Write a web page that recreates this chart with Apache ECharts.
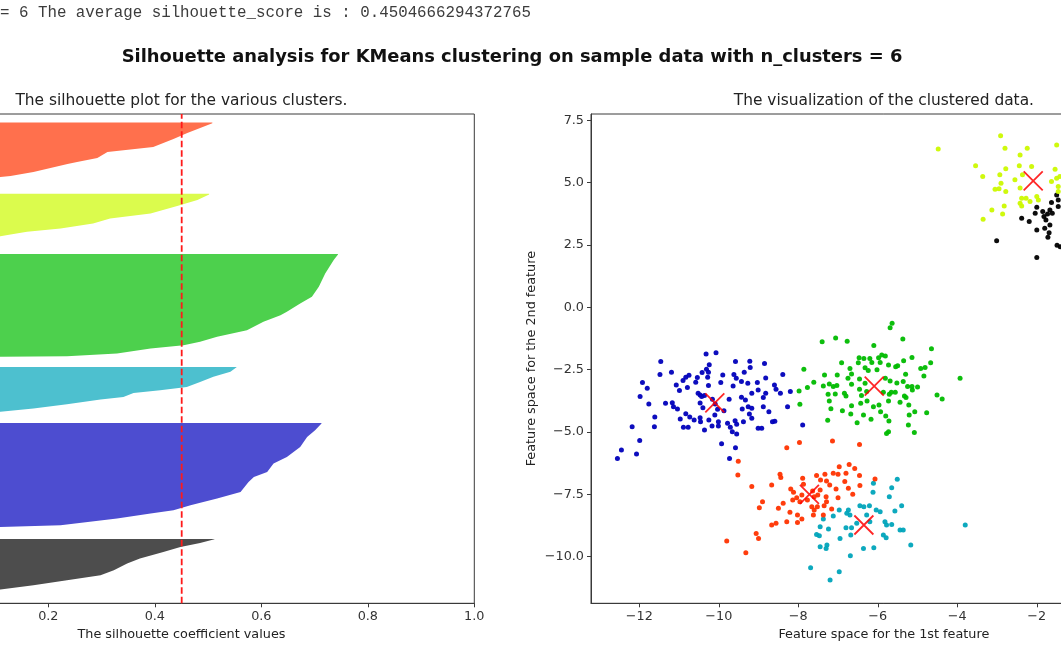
<!DOCTYPE html>
<html><head><meta charset="utf-8">
<script src="https://cdn.jsdelivr.net/npm/echarts@6/dist/echarts.min.js"></script>
<style>
html,body{margin:0;padding:0;background:#fff;overflow:hidden;width:1061px;height:663px}
#wrap{position:relative;width:1061px;height:663px;overflow:hidden}
#c{position:absolute;left:-112px;top:0;width:1290px;height:663px}
</style>
</head><body><div id="wrap"><div id="c"></div></div>
<script>
// ---------- data ----------
const nClusters = 6;
const silhouetteAvg = 0.4504666294372765;
const headerText = "= 6 The average silhouette_score is : " + silhouetteAvg;
const suptitleText = "Silhouette analysis for KMeans clustering on sample data with n_clusters = " + nClusters;
const leftTitle = "The silhouette plot for the various clusters.";
const rightTitle = "The visualization of the clustered data.";
const leftXName = "The silhouette coefficient values";
const rightXName = "Feature space for the 1st feature";
const rightYName = "Feature space for the 2nd feature";

const silhouetteTicks = [-0.1, 0, 0.2, 0.4, 0.6, 0.8, 1.0];
const featureXTicks = [-12, -10, -8, -6, -4, -2, 0];
const featureYTicks = [-10, -7.5, -5, -2.5, 0, 2.5, 5, 7.5];
const silhouetteYMax = 570;

// silhouette outline per cluster: [silhouette value, y position], sorted ascending
const profile0 = [[0.02,10],[0.110,16.0],[0.172,21.0],[0.235,26.8],[0.298,32.6],[0.323,38.5],[0.348,46.3],[0.372,52.1],[0.416,59.8],[0.448,65.6],[0.485,70.3],[0.512,74.6],[0.512,75]];
const profile1 = [[0.0,85],[0.110,88.9],[0.223,90.9],[0.329,98.7],[0.392,104.5],[0.435,108.4],[0.467,114.2],[0.517,122.0],[0.561,129.7],[0.576,141.4],[0.586,147.2],[0.611,153.0],[0.623,162.8],[0.648,170.5],[0.673,182.2],[0.686,193.8],[0.701,201.6],[0.713,209.4],[0.713,210]];
const profile2 = [[0.03,220],[0.110,223.0],[0.172,226.9],[0.235,231.9],[0.298,237.4],[0.341,240.4],[0.360,245.1],[0.410,248.2],[0.460,252.1],[0.485,257.9],[0.510,263.8],[0.542,269.6],[0.554,275.4]];
const profile3 = [[0.0,285],[0.110,287.1],[0.235,287.9],[0.329,291.0],[0.392,296.9],[0.454,300.7],[0.485,304.6],[0.517,310.4],[0.573,318.2],[0.604,327.9],[0.636,335.7],[0.648,339.5],[0.673,349.3],[0.695,357.1],[0.708,368.7],[0.720,384.3],[0.736,399.8],[0.744,406.4],[0.744,407]];
const profile4 = [[0.0,417],[0.060,422],[0.110,427.7],[0.129,429.6],[0.160,432.7],[0.223,436.7],[0.284,442.5],[0.316,448.4],[0.392,454.2],[0.442,462.7],[0.480,469.7],[0.502,476.3],[0.502,477]];
const profile5 = [[0.0,487],[0.07,490],[0.110,496.5],[0.129,497.7],[0.172,502.3],[0.236,511.7],[0.254,514.0],[0.292,518.6],[0.311,525.6],[0.397,531.5],[0.435,540.8],[0.461,547.8],[0.508,559.1],[0.508,560]];

// scatter points per cluster [x, y]
const points0 = [[-3.01,2.67],[-2.00,2.00],[-2.38,3.57],[-2.19,3.44],[-2.04,3.77],[-2.00,4.01],[-1.85,3.84],[-1.82,3.64],[-1.77,3.50],[-1.73,3.74],[-1.67,3.90],[-1.63,4.20],[-1.50,4.50],[-1.46,4.30],[-1.61,3.77],[-1.67,3.30],[-1.80,3.17],[-1.69,2.99],[-1.72,2.81],[-2.00,3.10],[-1.41,2.43],[-1.46,4.04],[-1.49,2.49]];
const points1 = [[-10.32,-1.87],[-10.07,-1.82],[-11.46,-2.17],[-9.58,-2.17],[-9.22,-2.16],[-8.85,-2.25],[-10.24,-2.30],[-10.31,-2.49],[-11.48,-2.70],[-11.19,-2.61],[-10.42,-2.62],[-10.26,-2.61],[-9.90,-2.72],[-9.62,-2.70],[-9.36,-2.61],[-9.21,-2.41],[-10.75,-2.73],[-10.83,-2.81],[-10.90,-2.94],[-10.54,-2.82],[-10.28,-2.81],[-9.56,-2.85],[-8.82,-2.84],[-8.39,-2.70],[-11.92,-3.02],[-11.80,-3.25],[-11.07,-3.12],[-10.99,-3.34],[-10.79,-3.22],[-10.58,-3.01],[-10.26,-3.14],[-9.95,-3.02],[-9.64,-3.16],[-9.43,-2.98],[-9.27,-3.05],[-9.03,-3.02],[-8.60,-3.12],[-11.98,-3.58],[-11.76,-3.88],[-11.34,-3.85],[-11.17,-3.83],[-11.14,-3.99],[-11.04,-4.08],[-10.52,-3.45],[-10.47,-3.52],[-10.43,-3.58],[-10.36,-3.54],[-10.47,-3.84],[-10.40,-4.03],[-10.16,-3.69],[-10.09,-3.88],[-9.87,-4.15],[-10.03,-4.09],[-9.74,-3.69],[-9.43,-3.61],[-9.33,-3.72],[-9.17,-3.45],[-9.01,-3.32],[-8.88,-3.62],[-8.82,-3.45],[-8.56,-3.29],[-8.45,-3.45],[-8.20,-3.38],[-8.27,-3.99],[-11.61,-4.40],[-10.97,-4.48],[-10.83,-4.27],[-10.73,-4.40],[-10.62,-4.52],[-10.47,-4.43],[-10.46,-4.59],[-10.25,-4.52],[-10.10,-4.32],[-10.01,-4.59],[-9.78,-4.65],[-9.59,-4.55],[-9.55,-4.69],[-9.38,-4.59],[-9.23,-4.28],[-9.17,-4.45],[-9.41,-4.08],[-9.26,-3.99],[-9.17,-4.05],[-8.88,-3.99],[-8.74,-4.19],[-8.59,-4.57],[-8.65,-4.59],[-12.18,-4.79],[-11.62,-4.79],[-10.89,-4.81],[-10.77,-4.81],[-10.36,-4.92],[-10.17,-4.76],[-10.01,-4.76],[-9.71,-4.81],[-9.66,-4.99],[-9.55,-5.08],[-9.01,-4.85],[-8.92,-4.85],[-11.99,-5.34],[-9.93,-5.47],[-9.58,-5.63],[-12.45,-5.72],[-12.07,-5.88],[-12.55,-6.06],[-9.73,-6.06],[-7.89,-4.72]];
const points2 = [[-5.51,-6.90],[-6.11,-7.06],[-5.65,-7.24],[-6.12,-7.42],[-5.71,-7.60],[-5.40,-7.96],[-5.57,-8.17],[-6.45,-7.96],[-6.35,-8.00],[-6.21,-7.96],[-6.04,-8.13],[-5.94,-8.20],[-6.74,-8.13],[-6.78,-8.26],[-6.70,-8.33],[-6.97,-8.13],[-7.12,-8.37],[-7.37,-8.49],[-7.24,-8.89],[-7.45,-8.80],[-7.54,-9.11],[-7.47,-9.16],[-6.80,-8.84],[-6.66,-8.84],[-6.53,-8.66],[-6.20,-8.60],[-5.82,-8.60],[-5.78,-8.73],[-5.65,-8.71],[-5.44,-8.93],[-5.36,-8.93],[-6.28,-8.33],[-5.86,-9.13],[-5.79,-9.24],[-6.95,-9.27],[-6.68,-9.13],[-7.45,-9.60],[-7.30,-9.67],[-7.28,-9.53],[-6.36,-9.67],[-6.10,-9.64],[-6.69,-9.96],[-5.17,-9.53],[-7.69,-10.44],[-7.20,-10.94],[-6.97,-10.60],[-3.80,-8.73]];
const points3 = [[-5.64,-0.64],[-5.69,-0.82],[-7.40,-1.38],[-7.06,-1.23],[-6.77,-1.36],[-5.37,-1.27],[-6.10,-1.53],[-4.65,-1.66],[-6.47,-2.02],[-6.35,-2.05],[-6.20,-2.05],[-5.98,-2.02],[-5.90,-1.91],[-5.81,-1.95],[-6.91,-2.22],[-6.49,-2.22],[-6.15,-2.21],[-5.94,-2.21],[-5.73,-2.31],[-5.55,-2.38],[-5.35,-2.14],[-5.14,-2.01],[-5.50,-2.34],[-4.92,-2.45],[-4.81,-2.41],[-4.67,-2.22],[-7.86,-2.49],[-6.70,-2.45],[-6.32,-2.42],[-6.24,-2.54],[-6.02,-2.51],[-6.66,-2.68],[-4.84,-2.76],[-5.30,-2.69],[-7.34,-2.72],[-7.02,-2.72],[-7.61,-3.01],[-7.37,-3.16],[-7.22,-3.08],[-7.12,-3.18],[-7.03,-3.14],[-6.75,-2.85],[-6.66,-3.09],[-6.46,-2.88],[-6.32,-3.05],[-6.46,-3.29],[-6.28,-3.38],[-5.81,-2.85],[-5.69,-2.96],[-5.52,-3.04],[-5.36,-2.98],[-5.25,-3.18],[-5.14,-3.18],[-5.00,-3.20],[-3.93,-2.85],[-7.98,-3.36],[-7.77,-3.22],[-7.25,-3.49],[-7.07,-3.48],[-6.84,-3.45],[-6.80,-3.56],[-6.41,-3.54],[-5.86,-3.41],[-5.71,-3.49],[-5.66,-3.41],[-5.56,-3.41],[-5.33,-3.56],[-5.13,-3.32],[-4.51,-3.52],[-4.38,-3.68],[-7.96,-3.89],[-7.22,-3.76],[-7.18,-4.07],[-6.89,-4.15],[-6.66,-3.95],[-6.43,-3.85],[-6.27,-3.76],[-6.11,-3.99],[-5.97,-3.92],[-5.73,-3.76],[-5.44,-3.81],[-5.29,-3.62],[-5.22,-3.92],[-6.68,-4.28],[-6.52,-4.63],[-6.36,-4.32],[-6.17,-4.49],[-5.93,-4.19],[-5.80,-4.36],[-5.72,-4.56],[-5.21,-4.32],[-5.07,-4.19],[-4.77,-4.23],[-7.26,-4.53],[-5.23,-4.72],[-5.73,-4.99],[-5.78,-5.06],[-5.08,-5.02]];
const points4 = [[-2.91,6.88],[-4.48,6.35],[-2.80,6.38],[-2.24,6.38],[-1.50,6.51],[-2.42,6.11],[-3.54,5.67],[-2.44,5.67],[-2.13,5.64],[-1.54,5.53],[-3.36,5.24],[-2.93,5.31],[-2.78,5.55],[-2.55,5.11],[-2.36,5.31],[-2.90,4.97],[-3.05,4.73],[-2.95,4.75],[-2.78,4.64],[-2.42,4.78],[-1.63,5.04],[-1.50,5.17],[-1.42,5.24],[-1.46,4.84],[-2.38,4.37],[-2.27,4.37],[-2.00,4.44],[-1.96,4.30],[-2.42,4.17],[-2.38,4.06],[-2.17,4.24],[-2.82,4.06],[-3.13,3.90],[-3.35,3.53],[-2.86,3.74],[-1.46,4.64]];
const points5 = [[-7.97,-5.42],[-8.29,-5.63],[-7.14,-5.36],[-6.46,-5.50],[-9.51,-6.17],[-9.52,-6.73],[-9.17,-7.19],[-8.67,-7.13],[-8.46,-6.70],[-8.44,-6.83],[-7.89,-6.86],[-7.87,-7.10],[-7.54,-6.75],[-7.44,-6.93],[-7.33,-6.70],[-7.29,-6.97],[-7.21,-7.13],[-7.12,-6.66],[-7.00,-6.70],[-6.97,-6.39],[-6.72,-6.30],[-6.58,-6.46],[-6.80,-6.66],[-6.83,-6.99],[-6.74,-7.26],[-6.63,-7.50],[-6.46,-6.75],[-6.45,-7.15],[-6.07,-6.89],[-8.19,-7.29],[-8.12,-7.42],[-8.14,-7.73],[-8.04,-7.64],[-7.96,-7.80],[-7.91,-7.53],[-7.77,-7.73],[-7.64,-7.37],[-7.60,-7.60],[-7.51,-7.53],[-7.45,-7.33],[-7.30,-7.60],[-7.29,-7.80],[-7.05,-7.29],[-7.00,-7.64],[-8.90,-7.80],[-8.98,-8.04],[-8.50,-8.06],[-8.38,-7.86],[-8.21,-8.22],[-8.02,-8.33],[-8.02,-8.63],[-7.91,-8.49],[-7.66,-8.00],[-7.60,-8.13],[-7.62,-8.33],[-7.52,-8.00],[-7.37,-8.33],[-7.35,-7.96],[-7.16,-8.09],[-8.29,-8.60],[-8.67,-8.73],[-8.56,-8.66],[-9.06,-9.07],[-9.00,-9.27],[-9.80,-9.37],[-9.32,-9.84]];
const centers = [[-10.10,-3.83],[-6.09,-3.16],[-7.72,-7.50],[-6.35,-8.73],[-2.09,5.07]];

// ---------- styles / layout ----------
const OFFSET = 112; // chart canvas starts 112px left of the viewport
const profiles = [profile0, profile1, profile2, profile3, profile4, profile5];
const pointSets = [points0, points1, points2, points3, points4, points5];
const fillColors = ['#4d4d4d', '#4d4dd0', '#4dc0cf', '#4dd04d', '#dbfb4d', '#ff704d'];
const dotColors = ['#000000', '#0000bb', '#00a4bb', '#00bb00', '#ccf900', '#ff3300'];
const FONT = 'DejaVu Sans';
const AXIS_COLOR = '#3a3a3a';
const minus = v => (v < 0 ? '\u2212' : '') + Math.abs(v);
const fmt1 = v => (v < 0 ? '\u2212' : '') + Math.abs(v).toFixed(1);

const chart = echarts.init(document.getElementById('c'), null, { renderer: 'canvas' });

const commonAxis = {
  axisLine: { show: true, onZero: false, lineStyle: { color: AXIS_COLOR, width: 1 } },
  splitLine: { show: false }
};
const labelStyle = { fontFamily: FONT, fontSize: 12.8, color: '#333', margin: 7 };
const nameStyle = { fontFamily: FONT, fontSize: 12.8, color: '#222' };

const series = [];
profiles.forEach((prof, i) => {
  series.push({
    type: 'custom', xAxisIndex: 0, yAxisIndex: 0, z: 2,
    data: [[prof[0][0], prof[0][1]]],
    renderItem: (params, api) => {
      const pts = [[0, prof[0][1]]].concat(prof).concat([[0, prof[prof.length - 1][1]]]).map(p => api.coord(p));
      return { type: 'polygon', shape: { points: pts }, style: { fill: fillColors[i] } };
    }
  });
});
series.push({
  type: 'line', xAxisIndex: 0, yAxisIndex: 0, z: 5, symbol: 'none', silent: true,
  data: [[silhouetteAvg, 0], [silhouetteAvg, silhouetteYMax]],
  lineStyle: { color: '#ff1a1a', width: 1.8, type: [6.5, 3] }
});
pointSets.forEach((pts, i) => {
  series.push({
    type: 'scatter', xAxisIndex: 1, yAxisIndex: 1, z: 3,
    symbol: 'circle', symbolSize: 5, data: pts,
    itemStyle: { color: dotColors[i], opacity: 0.95 }
  });
});
series.push({
  type: 'scatter', xAxisIndex: 1, yAxisIndex: 1, z: 6,
  symbol: 'path://M0,0L10,10M10,0L0,10', symbolSize: 19, data: centers,
  itemStyle: { color: 'rgba(0,0,0,0)', borderColor: '#ff0000', borderWidth: 1.8, opacity: 0.85 }
});

chart.setOption({
  animation: false,
  backgroundColor: '#ffffff',
  grid: [
    { left: -111.4 + OFFSET, top: 114, width: 585.7, height: 489.3, show: true, borderColor: AXIS_COLOR, borderWidth: 1, backgroundColor: 'transparent', containLabel: false, outerBoundsMode: 'none' },
    { left: 591 + OFFSET, top: 114, width: 585.7, height: 489.3, show: true, borderColor: AXIS_COLOR, borderWidth: 1, backgroundColor: 'transparent', containLabel: false, outerBoundsMode: 'none' }
  ],
  xAxis: [
    Object.assign({}, commonAxis, {
      type: 'value', gridIndex: 0, min: -0.1, max: 1.0,
      name: leftXName, nameLocation: 'middle', nameGap: 24, nameTextStyle: nameStyle,
      axisTick: { show: true, length: 4, customValues: silhouetteTicks, lineStyle: { color: AXIS_COLOR } },
      axisLabel: Object.assign({ customValues: silhouetteTicks, formatter: fmt1 }, labelStyle)
    }),
    Object.assign({}, commonAxis, {
      type: 'value', gridIndex: 1, min: -13.215, max: 1.52,
      name: rightXName, nameLocation: 'middle', nameGap: 24, nameTextStyle: nameStyle,
      axisTick: { show: true, length: 4, customValues: featureXTicks, lineStyle: { color: AXIS_COLOR } },
      axisLabel: Object.assign({ customValues: featureXTicks, formatter: minus }, labelStyle)
    })
  ],
  yAxis: [
    Object.assign({}, commonAxis, {
      type: 'value', gridIndex: 0, min: 0, max: silhouetteYMax,
      axisTick: { show: false }, axisLabel: { show: false }
    }),
    Object.assign({}, commonAxis, {
      type: 'value', gridIndex: 1, min: -11.87, max: 7.75,
      name: rightYName, nameLocation: 'middle', nameGap: 53, nameTextStyle: nameStyle,
      axisTick: { show: true, length: 4, customValues: featureYTicks, lineStyle: { color: AXIS_COLOR } },
      axisLabel: Object.assign({ customValues: featureYTicks, formatter: fmt1 }, labelStyle)
    })
  ],
  graphic: [
    { type: 'text', left: OFFSET, top: 5, style: { text: headerText, font: '15.8px "Liberation Mono"', fill: '#3c3c3c' } },
    { type: 'text', x: 512 + OFFSET, y: 57, style: { text: suptitleText, font: 'bold 17.9px "DejaVu Sans"', fill: '#111', align: 'center', verticalAlign: 'middle' } },
    { type: 'text', x: 181.4 + OFFSET, y: 101, style: { text: leftTitle, font: '15.4px "DejaVu Sans"', fill: '#222', align: 'center', verticalAlign: 'middle' } },
    { type: 'text', x: 883.9 + OFFSET, y: 101, style: { text: rightTitle, font: '15.4px "DejaVu Sans"', fill: '#222', align: 'center', verticalAlign: 'middle' } }
  ],
  series: series
});
</script>
</body></html>
